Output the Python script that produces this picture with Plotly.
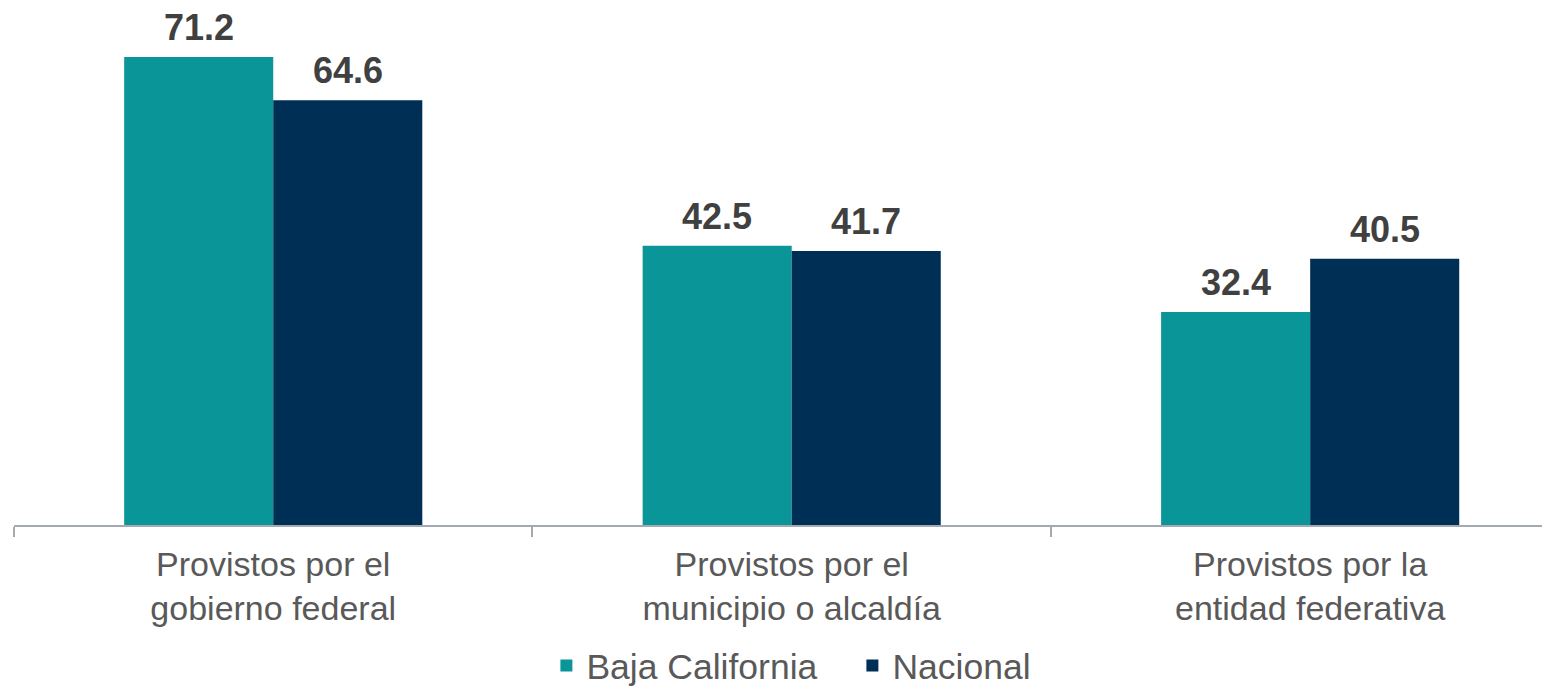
import plotly.graph_objects as go

# data
categories = ["Provistos por el<br>gobierno federal",
              "Provistos por el<br>municipio o alcaldía",
              "Provistos por la<br>entidad federativa"]
baja_california = [71.2, 42.5, 32.4]
nacional = [64.6, 41.7, 40.5]

teal = "#0A9699"
navy = "#002F56"

fig = go.Figure()
fig.add_trace(go.Bar(x=categories, y=baja_california, name="Baja California",
                     marker=dict(color=teal, line=dict(width=0))))
fig.add_trace(go.Bar(x=categories, y=nacional, name="Nacional",
                     marker=dict(color=navy, line=dict(width=0))))

# value labels above the bars
for values, shift in [(baja_california, -74.5), (nacional, 74.5)]:
    for cat, v in zip(categories, values):
        fig.add_annotation(x=cat, y=v, text=f"<b>{v:.1f}</b>", showarrow=False,
                           xshift=shift, yshift=8, yanchor="bottom", borderpad=0,
                           font=dict(family="Liberation Sans", size=36, color="#404040"))

fig.update_layout(
    width=1550, height=686,
    margin=dict(l=6, r=0, t=0, b=169),
    paper_bgcolor="white", plot_bgcolor="white",
    barmode="group", bargap=0.425, bargroupgap=0,
    font=dict(family="Liberation Sans", color="#595959"),
    showlegend=True,
    legend=dict(orientation="h", x=0.543, xanchor="center",
                yref="container", y=0.041, yanchor="middle",
                font=dict(size=35.5, color="#595959"), itemsizing="constant",
                entrywidth=261, entrywidthmode="pixels",
                bgcolor="rgba(0,0,0,0)"),
)
fig.update_xaxes(range=[-0.5, 2.478], showline=True, linecolor="#A3AAB2", linewidth=1.5,
                 ticks="outside", tickson="boundaries", ticklen=10, tickcolor="#A3AAB2",
                 tickwidth=1.5, tickfont=dict(size=34, color="#595959"),
                 showgrid=False, ticklabelstandoff=8)
fig.update_yaxes(range=[0, 78.65], visible=False, showgrid=False)

fig.write_html("out.html")
